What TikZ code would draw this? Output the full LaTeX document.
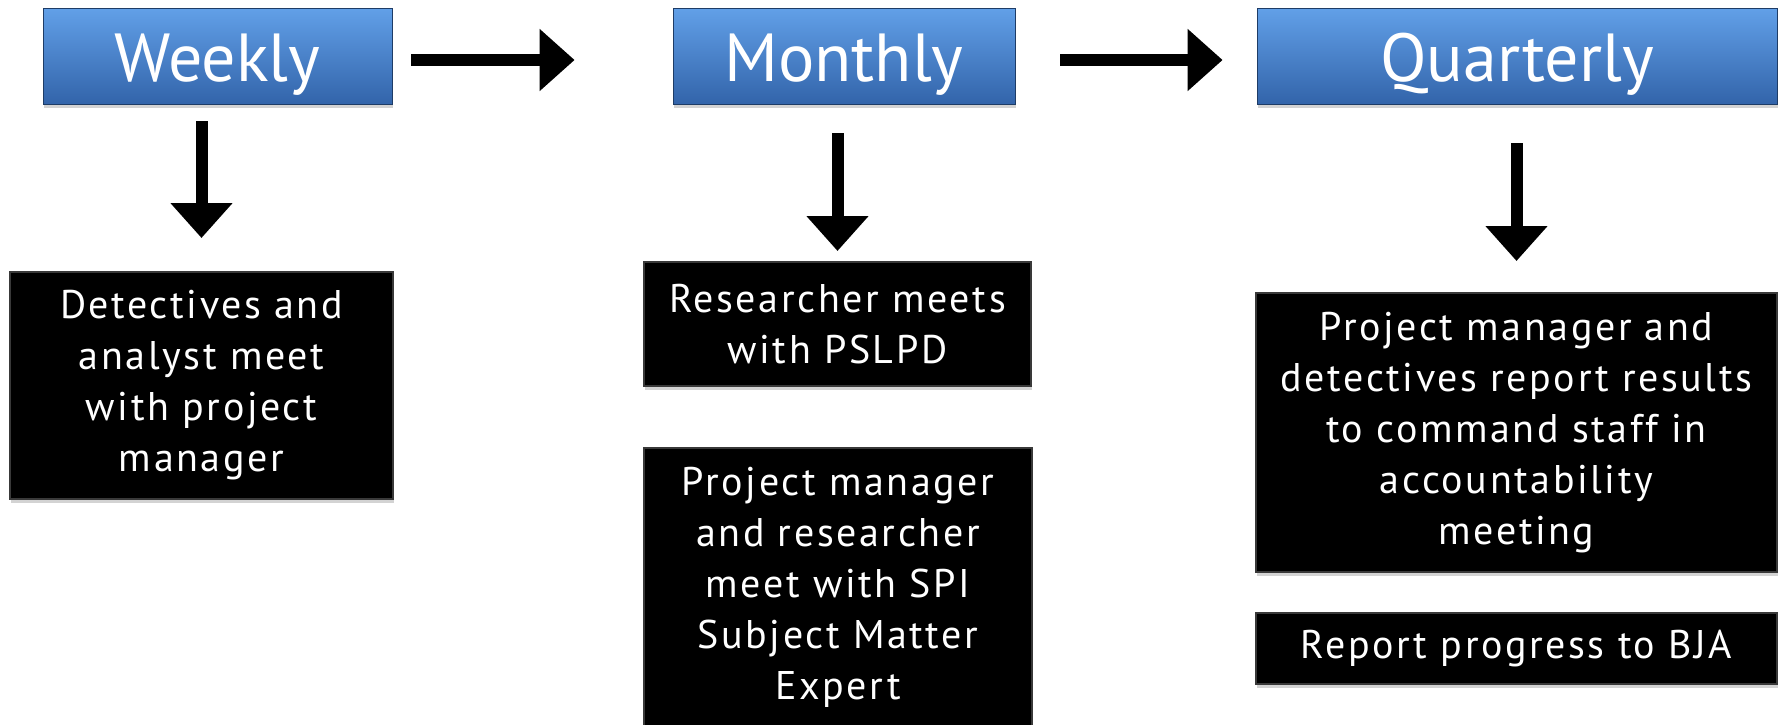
\documentclass[tikz,border=0pt]{standalone}
\usepackage{fontspec}
\setmainfont{PT Sans}
\newfontfamily\wideface{PT Sans}[LetterSpace=6.5]
\usetikzlibrary{arrows.meta,shadows}
\definecolor{boxtop}{RGB}{98,160,232}
\definecolor{boxbot}{RGB}{50,100,170}

\begin{document}
\begin{tikzpicture}[x=0.5pt,y=-0.5pt,
  period/.style={shape=rectangle,draw=boxbot!60!black,line width=0.4pt,top color=boxtop,bottom color=boxbot,text=white,inner sep=0pt,minimum height=48pt,text height=30pt,text depth=5pt,font=\fontsize{34}{40}\selectfont,drop shadow={shadow xshift=0.5pt,shadow yshift=-2pt,opacity=0.35}},
  task/.style={shape=rectangle,fill=black,draw=gray!45!black,line width=1pt,text=white,align=center,inner sep=0pt,font=\wideface\fontsize{20}{25.5}\selectfont,drop shadow={shadow xshift=0.5pt,shadow yshift=-2pt,opacity=0.35}},
  flow/.style={line width=6pt,-{Triangle[width=30pt,length=17.5pt]}}]
\useasboundingbox (0,0) rectangle (1783,724);
\clip (0,0) rectangle (1783,724);

\node[period,minimum width=174.5pt] (wk) at (217.5,56) {Weekly};
\node[period,minimum width=171pt] (mo) at (844,56) {Monthly};
\node[period,minimum width=260pt] (qu) at (1517,56) {Quarterly};

\node[task,minimum width=191.5pt,minimum height=113.5pt] (det) at (201.5,385.5) {Detectives and\\analyst meet\\with project\\manager};
\node[task,minimum width=193.5pt,minimum height=62pt] (res) at (837.5,324) {Researcher meets\\with PSLPD};
\node[task,minimum width=194pt,minimum height=139.5pt] (spi) at (838,587.5) {Project manager\\and researcher\\meet with SPI\\Subject Matter\\Expert};
\node[task,minimum width=260.5pt,minimum height=139.5pt] (qr) at (1516.5,432.5) {Project manager and\\detectives report results\\to command staff in\\accountability\\meeting};
\node[task,minimum width=260.5pt,minimum height=35.5pt] (bja) at (1516.5,648.5) {Report progress to BJA};

\draw[flow,shorten <=9.5pt,shorten >=49pt] ([yshift=-2pt]wk.east) -- ([yshift=-2pt]mo.west);
\draw[flow,shorten <=22.5pt,shorten >=17pt] ([yshift=-2pt]mo.east) -- ([yshift=-2pt]qu.west);

\draw[flow,shorten <=8.5pt,shorten >=16.5pt] (det.north |- wk.south) -- (det.north);
\draw[flow,shorten <=14.5pt,shorten >=5pt] (res.north |- mo.south) -- (res.north);
\draw[flow,shorten <=19.5pt,shorten >=15.5pt] (qr.north |- qu.south) -- (qr.north);
\end{tikzpicture}
\end{document}
